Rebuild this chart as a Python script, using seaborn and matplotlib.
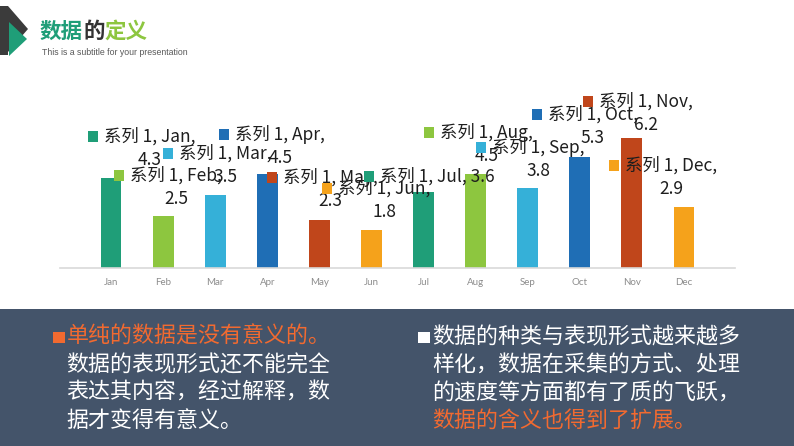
import matplotlib
matplotlib.use('Agg')
import matplotlib.pyplot as plt
import seaborn as sns
import pandas as pd
from matplotlib.patches import Rectangle, Polygon

# ---------------- data ----------------
months = ['Jan', 'Feb', 'Mar', 'Apr', 'May', 'Jun',
          'Jul', 'Aug', 'Sep', 'Oct', 'Nov', 'Dec']
values = [4.3, 2.5, 3.5, 4.5, 2.3, 1.8, 3.6, 4.5, 3.8, 5.3, 6.2, 2.9]
series_name = '系列 1'
title_parts = ['数据', '的', '定义']
subtitle = 'This is a subtitle for your presentation'
left_lines = ['单纯的数据是没有意义的。', '数据的表现形式还不能完全',
              '表达其内容，经过解释，数', '据才变得有意义。']
right_lines = ['数据的种类与表现形式越来越多', '样化，数据在采集的方式、处理',
               '的速度等方面都有了质的飞跃，', '数据的含义也得到了扩展。']

# ---------------- styles / layout ----------------
bar_colors = ['#1F9E78', '#8DC63F', '#35B0D8', '#1F6EB5', '#C0461B', '#F5A21B'] * 2
title_colors = ['#1F9E78', '#333333', '#8DC63F']
label_dx = [39, 13, 10, 13, 11, 13, 14, 11, 11, 13, 14, -13]
label_dy = [41, 40, 41, 39, 42, 42, 16, 41, 41, 42, 36, 42]
single_line = [False] * 6 + [True] + [False] * 5
left_colors = ['#F26A30', 'white', 'white', 'white']
right_colors = ['white', 'white', 'white', '#F26A30']

W, H = 794, 446
sns.set_theme(style='white')
plt.rcParams['font.family'] = ['Noto Sans CJK SC', 'DejaVu Sans']

fig = plt.figure(figsize=(W / 100, H / 100), dpi=100)
fig.patch.set_facecolor('white')


def fx(x):
    return x / W


def fy(y):
    return 1 - y / H


# bottom panel
fig.add_artist(Rectangle((0, 0), 1, (H - 309) / H, transform=fig.transFigure,
                         facecolor='#44546A', edgecolor='none', zorder=0))

# logo
dark = [(0, 6), (8, 6), (28, 29), (8, 52), (8, 55), (0, 55)]
green = [(9, 22), (27, 39), (9, 56)]
fig.add_artist(Polygon([(fx(a), fy(b)) for a, b in dark], closed=True,
                       transform=fig.transFigure, facecolor='#3B3B3B', edgecolor='none'))
fig.add_artist(Polygon([(fx(a), fy(b)) for a, b in green], closed=True,
                       transform=fig.transFigure, facecolor='#1F9E78', edgecolor='none'))

# chart
ax = fig.add_axes([fx(60), fy(268), fx(735) - fx(60), (268 - 90) / H])
ax.set_zorder(2)
ax.patch.set_alpha(0)
df = pd.DataFrame({'month': months, 'value': values})
sns.barplot(data=df, x='month', y='value', hue='month', order=months,
            hue_order=months, palette=bar_colors, width=0.4, saturation=1,
            legend=False, ax=ax, edgecolor='none')
ax.set_xlim(-0.98, 11.98)
ax.set_ylim(0, 178 / 21)
ax.set_xlabel('')
ax.set_ylabel('')
ax.set_yticks([])
for s in ['top', 'right', 'left']:
    ax.spines[s].set_visible(False)
ax.spines['bottom'].set_color('#D9D9D9')
ax.spines['bottom'].set_linewidth(1.2)
ax.tick_params(axis='x', length=0, pad=7, labelsize=7, labelcolor='#8C8C8C')
for t in ax.get_xticklabels():
    t.set_fontfamily('Lato')

label_color = '#1E1E1E'
line1_texts = []
for i, (m, v) in enumerate(zip(months, values)):
    if single_line[i]:
        s1 = f'{series_name}, {m}, {v}'
    else:
        s1 = f'{series_name}, {m},'
    t1 = ax.annotate(s1, xy=(i, v), xytext=(label_dx[i], label_dy[i]),
                     textcoords='offset pixels', ha='center', va='center',
                     fontsize=12.5, color=label_color, annotation_clip=False)
    line1_texts.append(t1)
    if not single_line[i]:
        ax.annotate(f'{v}', xy=(i, v), xytext=(label_dx[i], label_dy[i] - 23.5),
                    textcoords='offset pixels', ha='center', va='center',
                    fontsize=12.5, color=label_color, annotation_clip=False)

# title
fig.canvas.draw()
renderer = fig.canvas.get_renderer()
x_cur = 40
for part, col in zip(title_parts, title_colors):
    t = fig.text(fx(x_cur), fy(31), part, ha='left', va='center', fontsize=15.5,
                 fontweight='bold', color=col)
    bb = t.get_window_extent(renderer)
    x_cur += bb.width
fig.text(fx(42), fy(52.5), subtitle, ha='left', va='center', fontsize=6.3,
         color='#595959', family='Liberation Sans')

# legend-key squares beside labels
for i, t1 in enumerate(line1_texts):
    bb = t1.get_window_extent(renderer)
    px, py = ax.transData.transform((i, values[i]))
    yc = py + label_dy[i]
    x1 = bb.x0 - 6
    fig.add_artist(Rectangle(((x1 - 10) / W, (yc - 5.5) / H), 10 / W, 11 / H,
                             transform=fig.transFigure, facecolor=bar_colors[i],
                             edgecolor='none', zorder=3))

# bottom text
line_y = [337, 365, 393, 421]
for k, (s, c) in enumerate(zip(left_lines, left_colors)):
    fig.text(fx(66.5), fy(line_y[k]), s, ha='left', va='center', fontsize=15.8,
             color=c, zorder=3)
for k, (s, c) in enumerate(zip(right_lines, right_colors)):
    fig.text(fx(432), fy(line_y[k]), s, ha='left', va='center', fontsize=15.8,
             color=c, zorder=3)
fig.add_artist(Rectangle((fx(53), fy(343)), 12 / W, 11 / H, transform=fig.transFigure,
                         facecolor='#F26A30', edgecolor='none', zorder=3))
fig.add_artist(Rectangle((fx(418), fy(343)), 12 / W, 11 / H, transform=fig.transFigure,
                         facecolor='white', edgecolor='none', zorder=3))

fig.savefig('out.png', dpi=100)
